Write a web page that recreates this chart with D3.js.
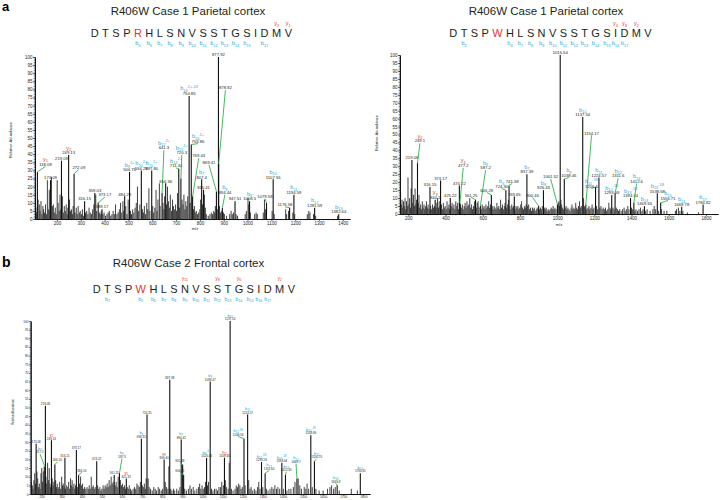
<!DOCTYPE html>
<html>
<head>
<meta charset="utf-8">
<script src="https://cdn.jsdelivr.net/npm/d3@7"></script>
<style>
body { margin: 0; background: #fff; }
svg { display: block; font-family: "Liberation Sans", Arial, sans-serif; }
</style>
</head>
<body>
<svg id="fig" width="720" height="500"></svg>
<script>
// ---- peptide sequences ----
const seqA1 = 'DTSPRHLSNVSSTGSIDMV'
const seqA2 = 'DTSPWHLSNVSSTGSIDMV'
const seqB = 'DTSPWHLSNVSSTGSIDMV'
const bIonsA1 = [5, 6, 7, 8, 9, 10, 11, 12, 13, 14, 15, 17]
const yIonsA1 = [2, 1]
const bIonsA2 = [2, 6, 7, 8, 9, 10, 11, 12, 13, 14, 15, 16, 17]
const yIonsA2 = [4, 3, 2]
const bIonsB = [2, 5, 6, 7, 8, 9, 10, 11, 12, 13, 14, 15, 16, 17]
const yIonsB = [11, 8, 6, 2]

// ---- panel a left: labelled peaks [m/z, rel. abundance, label, ion] ----
const peaksA1 = [
  [118.08, 29, '118.08', 'y1'], [173.09, 24, '173.09', ''], [219.09, 36, '219.09', ''],
  [249.13, 39.5, '249.13', 'y2'], [272.09, 28, '272.09', ''], [316.15, 11, '316.15', ''],
  [359.03, 16, '359.03', ''], [373.17, 10, '373.17', ''], [389.17, 6, '389.17', ''],
  [484.29, 14, '484.29', ''], [504.75, 29, '504.75', 'b9^2+'], [554.28, 30, '554.28', 'b10^2+'],
  [597.80, 30, '597.80', 'b11^2+'], [641.3, 16, '641.3', 'b12^2+'], [656.36, 22, '656.36', ''],
  [711.34, 31, '711.34', 'b14^2+'], [720.3, 25, '720.3', 'b15^2+'], [754.86, 76, '754.86', 'b16^2+-18'],
  [763.86, 46, '763.86', 'b16^2+'], [769.43, 14, '769.43', ''], [807.4, 24.5, '807.4', 'b7'],
  [815.41, 18, '815.41', ''], [869.41, 17, '869.41', ''], [877.92, 100, '877.92', ''],
  [878.92, 34, '878.92', ''], [894.44, 7, '894.44', 'b8'], [947.51, 11, '947.51', ''],
  [1008.5, 11, '1008.5', 'b9'], [1079.58, 10, '1079.58', ''], [1107.55, 24.5, '1107.55', 'b10'],
  [1176.58, 7, '1176.58', ''], [1194.59, 15, '1194.59', 'b11'], [1281.59, 7, '1281.59', 'b12'],
  [1382.64, 3, '1382.64', 'b13']
]
// labels pulled away from their peak (green leader): label -> [m/z, abundance] of the label
const moveA1 = {
  '118.08': [152, 33], '272.09': [292, 31], '373.17': [401, 14], '641.3': [649, 43],
  '711.34': [700, 32], '720.3': [724, 40], '763.86': [792, 47], '769.43': [795, 38], '869.41': [838, 34],
  '878.92': [907, 80], '894.44': [905, 15.5], '1079.58': [1073, 13], '1176.58': [1157, 8]
}
// unlabelled peaks [m/z, rel. abundance]
const grassA1 = [
  [112,7],[115,4],[121,12],[126,9],[129,5],[133,11],[137,3],[141,8],[144,6],[148,4],[152,9],[156,3],
  [160,24],[164,6],[168,18],[171,5],[177,26],[181,8],[185,9],[189,4],[193,7],[197,3],[201,24],[205,10],
  [209,5],[213,15],[216,6],[223,14],[227,4],[231,8],[235,5],[239,9],[243,3],[246,7],[253,12],[257,5],
  [261,6],[265,3],[268,8],[276,4],[281,7],[285,3],[289,8],[294,4],[298,5],[303,3],[307,6],[311,2],
  [320,4],[325,5],[330,3],[335,7],[340,4],[345,3],[350,6],[355,9],[363,15],[367,5],[378,4],[382,3],
  [386,5],[393,3],[398,4],[404,2],[410,3],[415,4],[420,5],[426,2],[431,3],[436,5],[441,3],[446,9],
  [452,3],[457,4],[462,6],[467,10],[472,4],[477,11],[480,5],[489,8],[494,3],[499,12],[509,5],[513,3],
  [518,6],[523,4],[528,7],[533,10],[538,20],[543,5],[548,9],[559,6],[563,4],[567,8],[572,3],[577,10],
  [581,6],[586,19],[590,5],[602,8],[606,4],[611,7],[616,18],[620,5],[624,12],[630,22],[633,8],[645,10],
  [649,6],[652,14],[660,9],[664,20],[668,11],[672,7],[676,15],[681,5],[685,12],[689,8],[693,6],[698,9],
  [702,5],[706,16],[715,7],[725,12],[729,9],[733,15],[737,6],[741,11],[745,8],[749,14],[759,10],[773,6],
  [777,8],[781,4],[785,5],[790,3],[795,4],[800,6],[803,12],[811,9],[819,15],[823,7],[827,3],[835,2],
  [842,3],[848,4],[853,3],[858,5],[862,4],[865,8],[873,6],[882,8],[886,4],[890,5],[899,4],[903,3],
  [912,2],[925,3],[931,5],[936,3],[941,4],[952,3],[958,2],[990,3],[995,5],[1002,13],[1005,9],[1012,4],
  [1030,3],[1036,4],[1041,3],[1066,4],[1071,12],[1075,6],[1103,5],[1112,3],[1160,6],[1164,3],[1172,5],
  [1190,4],[1198,3],[1251,3],[1257,5],[1262,4],[1277,3],[1286,2],[1378,2]
]

// ---- panel a right ----
const peaksA2 = [
  [219.08, 34, '219.08', ''], [249.1, 32, '249.1', 'y2'], [316.15, 17, '316.15', ''],
  [344.1, 9, '344.1', 'y3'], [373.17, 21, '373.17', ''], [425.22, 10, '425.22', ''],
  [474.22, 18, '474.22', ''], [477.2, 7, '477.2', 'y4'], [561.25, 9, '561.25', ''],
  [587.2, 5, '587.2', 'b5'], [646.28, 12, '646.28', ''], [724.3, 15, '724.30', 'b6'],
  [741.38, 18, '741.38', ''], [769.65, 11, '769.65', ''], [837.39, 25, '837.39', 'b7'],
  [900.46, 5, '900.46', ''], [926.43, 15, '926.43', 'b8'], [1001.52, 6, '1001.52', ''],
  [1016.54, 100, '1016.54', ''], [1038.46, 22, '1038.46', 'b9'], [1137.54, 61, '1137.54', 'b10'],
  [1154.17, 6, '1154.17', ''], [1206.6, 17, '1206.6', 'b11-18'], [1224.57, 23, '1224.57', 'b11'],
  [1293.59, 12, '1293.59', 'b12-18'], [1311.6, 13, '1311.6', 'b12'], [1394.64, 10, '1394.64', 'b13-18'],
  [1412.6, 7, '1412.6', 'b13'], [1469.65, 5, '1469.65', 'b14'], [1538.68, 13, '1538.68', 'b15-18'],
  [1556.71, 7, '1556.71', 'b15'], [1669.78, 4.5, '1669.78', 'b16'], [1784.82, 6, '1784.82', 'b17']
]
const moveA2 = {
  '249.1': [262, 45], '477.2': [495, 29.5], '561.25': [537, 11], '587.2': [615, 28],
  '646.28': [621, 14], '724.30': [702, 16.5], '741.38': [758, 19.7], '900.46': [868, 11],
  '1001.52': [965, 22.6], '1038.46': [1063, 23.5], '1154.17': [1185, 50], '1206.6': [1184, 16.5],
  '1311.6': [1328, 23], '1412.6': [1427, 19.7], '1556.71': [1596, 9]
}
const grassA2 = [
  [158,14],[162,6],[166,9],[170,4],[174,8],[178,5],[182,10],[186,3],[190,8],[194,5],[198,23],[203,6],
  [207,10],[211,4],[215,16],[224,7],[228,12],[232,5],[236,16],[240,6],[244,9],[253,7],[257,12],[261,4],
  [266,6],[270,3],[275,8],[279,4],[284,6],[288,3],[293,5],[297,8],[302,4],[306,6],[311,3],[320,5],
  [325,3],[330,6],[335,4],[340,5],[349,4],[353,7],[357,10],[362,4],[366,8],[370,5],[378,6],[383,3],
  [388,7],[393,4],[398,5],[403,3],[408,8],[413,4],[418,6],[422,3],[430,5],[435,7],[440,4],[445,6],
  [450,3],[455,8],[460,5],[465,7],[469,3],[480,6],[485,4],[490,6],[495,3],[500,5],[505,7],[510,4],
  [515,8],[520,5],[525,6],[530,10],[535,4],[540,6],[545,3],[550,5],[556,8],[565,4],[570,7],[575,8],
  [580,4],[592,3],[597,6],[602,4],[607,5],[612,3],[617,6],[622,4],[627,5],[632,8],[637,4],[642,6],
  [651,5],[656,3],[661,5],[666,4],[671,3],[676,7],[681,4],[686,5],[691,3],[696,9],[701,4],[706,6],
  [711,3],[716,5],[720,7],[729,4],[734,6],[738,9],[746,5],[751,3],[756,6],[761,4],[765,5],[774,3],
  [779,5],[784,4],[789,5],[794,3],[799,4],[804,6],[809,8],[814,4],[819,3],[824,5],[829,4],[833,6],
  [842,5],[847,6],[852,3],[857,4],[862,2],[867,4],[872,3],[877,4],[882,2],[888,3],[893,4],[905,3],
  [910,4],[915,3],[920,5],[931,4],[936,3],[941,4],[946,2],[952,3],[957,2],[962,3],[968,4],[973,3],
  [978,5],[983,3],[988,4],[994,3],[1006,7],[1010,8],[1013,5],[1020,9],[1024,6],[1028,4],[1033,3],
  [1043,4],[1048,5],[1053,3],[1058,4],[1064,3],[1069,2],[1075,4],[1080,6],[1085,3],[1090,4],[1095,3],
  [1100,7],[1105,4],[1110,3],[1115,5],[1120,8],[1125,4],[1130,5],[1142,10],[1146,5],[1150,4],[1160,3],
  [1166,4],[1171,5],[1176,3],[1182,4],[1188,6],[1193,3],[1198,4],[1212,5],[1218,3],[1230,4],[1236,5],
  [1242,3],[1248,4],[1254,3],[1260,4],[1266,2],[1272,3],[1278,7],[1284,4],[1288,3],[1300,4],[1306,3],
  [1318,4],[1324,3],[1330,2],[1336,3],[1344,2],[1352,3],[1360,4],[1366,2],[1372,3],[1380,5],[1386,3],
  [1400,4],[1406,3],[1418,2],[1424,3],[1432,2],[1440,3],[1448,4],[1456,2],[1462,3],[1476,2],[1484,3],
  [1500,2],[1515,3],[1522,5],[1530,3],[1546,2],[1562,3],[1575,2],[1590,2],[1636,2],[1642,3],[1652,4],
  [1660,2],[1676,2],[1700,1],[1760,1]
]

// ---- panel b ----
const peaksB = [
  [173.08, 29, '173.08', ''], [217.1, 15.6, '217.1', 'b2'], [219.08, 51, '219.08', ''],
  [249.13, 31, '249.13', 'y2'], [266.16, 17, '266.16', ''], [316.15, 21, '316.15', ''],
  [373.17, 25.5, '373.17', ''], [384.16, 11, '384.16', ''], [474.22, 19, '474.22', ''],
  [561.25, 11, '561.25', ''], [587.3, 12, '587.3', 'b5'], [621.32, 9, '621.32', 'y5'],
  [696.31, 32, '696.31', 'b6'], [724.31, 46, '724.31', ''], [809.4, 20, '809.40', 'y8'],
  [837.38, 66, '837.38', ''], [894.42, 31.5, '894.42', 'b7'], [901.48, 17, '901.48', ''],
  [906.41, 11, '906.41', ''], [1020.46, 20.8, '1020.46', 'b9-18'], [1038.47, 65, '1038.47', 'b9'],
  [1109.34, 21, '1109.34', 'y11'], [1137.54, 100, '1137.54', 'b10'], [1206.56, 32, '1206.56', 'b11-18'],
  [1224.57, 46, '1224.57', 'b11'], [1293.59, 18.5, '1293.59', 'b12-18'], [1311.6, 12, '1311.60', 'b12'],
  [1394.64, 18, '1394.64', 'b13-18'], [1412.65, 11, '1412.65', 'b13'], [1469.7, 9, '1469.7', 'b14'],
  [1538.69, 34, '1538.69', 'b15-18'], [1556.7, 19, '1556.70', 'b15'], [1669.8, 5, '1669.8', 'b16'],
  [1784.81, 12, '1784.81', 'b17']
]
const moveB = {
  '217.1': [192, 23.6], '266.16': [278, 19], '384.16': [400, 13], '587.3': [600, 21],
  '901.48': [888, 18.5], '906.41': [888, 13], '1206.56': [1178, 33.7], '1311.60': [1331, 14],
  '1412.65': [1417, 13.3], '1469.7': [1465, 18], '1556.70': [1568, 20.8], '1669.8': [1663, 6.5]
}
const grassB = [
  [150,7],[154,5],[158,3],[162,8],[166,12],[170,6],[177,13],[181,9],[185,4],[189,6],[193,3],[197,12],
  [201,15],[205,7],[209,13],[213,16],[222,10],[226,6],[230,18],[234,8],[238,15],[242,6],[245,4],[253,9],
  [257,5],[261,7],[270,8],[274,4],[278,6],[282,3],[286,4],[290,7],[295,3],[300,10],[304,5],[308,6],
  [312,4],[320,3],[325,5],[330,4],[335,7],[340,3],[344,9],[348,5],[352,8],[356,4],[361,6],[365,3],
  [369,5],[378,4],[389,6],[394,10],[399,5],[404,6],[409,3],[414,4],[420,3],[426,4],[432,3],[437,5],
  [442,3],[447,10],[452,4],[457,5],[462,3],[467,4],[479,5],[484,3],[490,4],[495,2],[500,3],[506,5],
  [511,3],[516,5],[521,4],[526,6],[531,4],[536,8],[541,5],[546,10],[551,6],[556,7],[566,5],[571,7],
  [576,4],[581,10],[592,8],[597,5],[602,6],[607,4],[612,5],[617,3],[626,4],[631,3],[636,5],[642,3],
  [648,2],[655,3],[662,4],[668,3],[674,6],[680,5],[686,4],[691,7],[701,5],[706,4],[711,6],[716,3],
  [720,9],[730,9],[735,4],[742,3],[750,2],[758,4],[765,3],[772,2],[780,4],[787,3],[795,2],[802,3],
  [815,7],[821,4],[828,3],[833,16],[842,3],[848,2],[856,3],[862,2],[872,3],[880,2],[888,4],[912,3],
  [920,2],[930,3],[938,5],[945,3],[954,4],[962,2],[972,3],[980,4],[986,6],[992,3],[998,5],[1004,3],
  [1010,4],[1015,7],[1025,5],[1030,7],[1045,3],[1052,2],[1060,3],[1068,3],[1075,2],[1082,4],[1090,4],
  [1096,7],[1104,5],[1114,8],[1120,4],[1128,3],[1133,18],[1144,3],[1152,2],[1162,3],[1168,5],[1174,4],
  [1180,6],[1186,5],[1192,3],[1198,4],[1212,5],[1230,8],[1236,3],[1242,4],[1250,2],[1258,3],[1266,2],
  [1274,4],[1280,7],[1286,3],[1300,4],[1318,3],[1326,2],[1336,3],[1345,4],[1352,3],[1360,5],[1368,3],
  [1375,4],[1384,3],[1402,3],[1420,2],[1430,3],[1440,3],[1452,4],[1460,7],[1476,9],[1484,5],[1492,3],
  [1506,4],[1514,3],[1520,6],[1528,3],[1546,4],[1564,3],[1580,2],[1600,2],[1622,3],[1634,4],[1642,5],
  [1652,3],[1660,4],[1680,2],[1740,3],[1770,2]
]

const blue = '#27a9e1'
const red = '#e8332e'
const green = '#2fb34a'
const ink = '#231f20'

const svg = d3.select('#fig')

// b / y ion label with subscript and optional charge
function ionText(g, x, y, ion, fs) {
  const m = ion.match(/^([by])(\d+)(\^2\+)?(-18)?$/)
  const t = g.append('text').attr('x', x).attr('y', y).attr('text-anchor', 'middle')
    .attr('font-size', fs).attr('fill', m[1] === 'b' ? blue : red)
  t.append('tspan').text(m[1])
  t.append('tspan').attr('font-size', fs * 0.72).attr('dy', fs * 0.28).text(m[2])
  if (m[3]) t.append('tspan').attr('font-size', fs * 0.72).attr('dy', -fs * 0.7).text('2+')
  if (m[4]) t.append('tspan').attr('font-size', fs * 0.72).attr('dy', m[3] ? 0 : -fs * 0.7).text('-18')
}

function drawHeader(o) {
  svg.append('text').attr('x', o.tx).attr('y', o.ty).attr('text-anchor', 'middle')
    .attr('font-size', 11.5).attr('fill', ink).text(o.title)
  const g = svg.append('g')
  const letters = g.selectAll(null).data(o.seq.split('')).join('text')
    .attr('font-size', 11).attr('y', o.base).attr('fill', (d, i) => i === o.mut ? red : ink).text(d => d)
  const w = letters.nodes().map(n => n.getComputedTextLength())
  const gap = (o.x1 - o.x0 - d3.sum(w)) / (o.seq.length - 1)
  const centers = []
  let cx = o.x0
  letters.attr('x', (d, i) => { const x = cx; centers[i] = x + w[i] / 2; cx += w[i] + gap; return x })
  o.bIons.forEach(n => ionText(g, centers[n - 1], o.bY, 'b' + n, o.ifs))
  o.yIons.forEach(n => ionText(g, centers[o.seq.length - n], o.yY, 'y' + n, o.ifs))
}

function drawSpectrum(o) {
  const g = svg.append('g')
  const x = d3.scaleLinear().domain(o.domain).range(o.xr)
  const y = d3.scaleLinear().domain([0, 100]).range(o.yr)

  // peaks
  g.append('g').selectAll('line').data(o.grass).join('line')
    .attr('x1', d => x(d[0])).attr('x2', d => x(d[0]))
    .attr('y1', y(0)).attr('y2', d => y(d[1]))
    .attr('stroke', '#2b2b2b').attr('stroke-width', 0.9)
  g.append('g').selectAll('line').data(o.peaks).join('line')
    .attr('x1', d => x(d[0])).attr('x2', d => x(d[0]))
    .attr('y1', y(0)).attr('y2', d => y(d[1]))
    .attr('stroke', '#111').attr('stroke-width', 1.1)

  // axes
  const xa = g.append('g').attr('transform', `translate(0,${o.yr[0]})`)
  xa.call(d3.axisBottom(x).tickValues(d3.range(o.minor[0], o.domain[1], o.minor[1]))
    .tickSize(o.tk * 0.6).tickSizeOuter(0).tickFormat(''))
  xa.append('g').call(d3.axisBottom(x).tickValues(d3.range(o.major[0], o.domain[1], o.major[1]))
    .tickSize(o.tk).tickSizeOuter(0).tickPadding(0.6).tickFormat(d3.format('d')))
  const ya = g.append('g').attr('transform', `translate(${o.xr[0]},0)`)
  ya.call(d3.axisLeft(y).tickValues(d3.range(0, 101, 1)).tickSize(o.tk * 0.6).tickSizeOuter(0).tickFormat(''))
  ya.append('g').call(d3.axisLeft(y).tickValues(d3.range(0, 101, 5)).tickSize(o.tk).tickSizeOuter(0).tickPadding(0.6))
  g.selectAll('.tick text').attr('font-size', o.tf).attr('fill', ink)
  g.selectAll('.domain, .tick line').attr('stroke', '#111').attr('stroke-width', 0.6)
  g.selectAll('.domain').attr('stroke-width', 0.9)

  g.append('text').attr('transform', `translate(${o.yl[0]},${o.yl[1]}) rotate(-90)`)
    .attr('text-anchor', 'middle').attr('font-size', o.tf * 0.9).attr('fill', ink).text('Relative Abundance')
  if (o.xl) g.append('text').attr('x', o.xl[0]).attr('y', o.xl[1]).attr('text-anchor', 'middle')
    .attr('font-size', o.tf * 0.9).attr('fill', ink).text('m/z')

  // annotations
  o.peaks.forEach(p => {
    const moved = o.move[p[2]]
    const lx = moved ? x(moved[0]) : x(p[0])
    const ly = moved ? y(moved[1]) : y(p[1]) - 0.8
    if (moved) {
      g.append('line').attr('x1', lx).attr('y1', ly + 0.8).attr('x2', x(p[0])).attr('y2', y(p[1]))
        .attr('stroke', green).attr('stroke-width', 0.9)
    }
    g.append('text').attr('x', lx).attr('y', ly).attr('text-anchor', 'middle')
      .attr('font-size', o.nfs).attr('fill', ink).text(p[2])
    if (p[3]) ionText(g, lx, ly - o.nfs - 0.4, p[3], o.ifs)
  })
}

// panel letters
svg.append('text').attr('x', 2).attr('y', 11).attr('font-size', 13).attr('font-weight', 'bold').text('a')
svg.append('text').attr('x', 2).attr('y', 267).attr('font-size', 14).attr('font-weight', 'bold').text('b')

drawHeader({ title: 'R406W Case 1 Parietal cortex', tx: 188, ty: 15, seq: seqA1, mut: 4,
  x0: 90.7, x1: 292, base: 37.3, bY: 45, yY: 25, ifs: 5.5, bIons: bIonsA1, yIons: yIonsA1 })
drawHeader({ title: 'R406W Case 1 Parietal cortex', tx: 546, ty: 15, seq: seqA2, mut: 4,
  x0: 449.3, x1: 651.7, base: 37.3, bY: 45, yY: 25, ifs: 5.5, bIons: bIonsA2, yIons: yIonsA2 })
drawHeader({ title: 'R406W Case 2 Frontal cortex', tx: 188.5, ty: 267, seq: seqB, mut: 4,
  x0: 92.7, x1: 295, base: 293.3, bY: 300.5, yY: 279.5, ifs: 5, bIons: bIonsB, yIons: yIonsB })

drawSpectrum({ domain: [108, 1430], xr: [35, 350], yr: [219, 57], major: [200, 100], minor: [120, 20],
  tk: 2, tf: 4.5, nfs: 4.2, ifs: 5.5, yl: [12, 140], xl: [195, 230],
  peaks: peaksA1, grass: grassA1, move: moveA1 })
drawSpectrum({ domain: [155, 1865], xr: [400, 718], yr: [214, 55], major: [200, 200], minor: [200, 50],
  tk: 2, tf: 4.5, nfs: 4.2, ifs: 5.5, yl: [378, 133], xl: [559, 226],
  peaks: peaksA2, grass: grassA2, move: moveA2 })
drawSpectrum({ domain: [146, 1833], xr: [30.7, 370], yr: [494, 321], major: [200, 100], minor: [160, 20],
  tk: 1.6, tf: 3.2, nfs: 3, ifs: 4, yl: [14, 412], xl: null,
  peaks: peaksB, grass: grassB, move: moveB })
</script>
</body>
</html>
